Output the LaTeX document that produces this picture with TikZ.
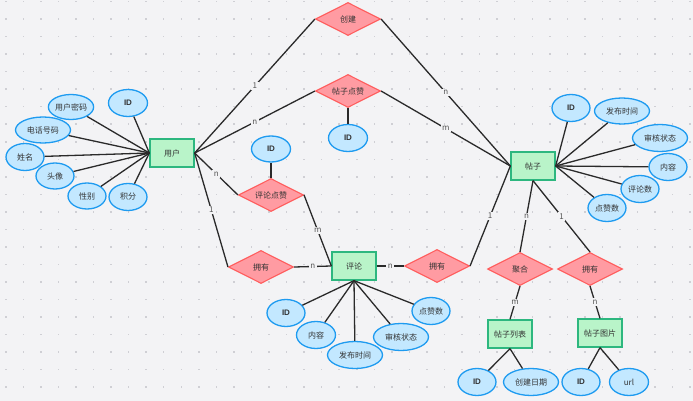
\documentclass[tikz,border=0pt]{standalone}
\usepackage{fontspec}
\setmainfont{Noto Sans CJK SC}
\newfontfamily\idfont{Liberation Sans}
\usetikzlibrary{shapes.geometric}
\definecolor{bg}{HTML}{F3F3F5}
\definecolor{dotc}{HTML}{CFCFD4}
\definecolor{entf}{HTML}{B9F4C9}
\definecolor{entd}{HTML}{2DB77F}
\definecolor{relf}{HTML}{FF9BA2}
\definecolor{reld}{HTML}{FF5C5C}
\definecolor{attf}{HTML}{C3E8FF}
\definecolor{attd}{HTML}{1E9BF0}
\definecolor{lnc}{HTML}{2A2A2A}
\definecolor{txt}{HTML}{333333}
\definecolor{lbltxt}{HTML}{555555}
\tikzset{
  ent/.style={rectangle, draw=entd, fill=entf, line width=1.3pt, minimum width=44pt, minimum height=28pt, inner sep=0pt},
  rel/.style={diamond, draw=reld, fill=relf, line width=1.1pt, minimum width=65pt, minimum height=33pt, inner sep=0pt, aspect=2},
  attr/.style={ellipse, draw=attd, fill=attf, line width=1.3pt, minimum height=27pt, minimum width=#1pt, inner sep=0pt},
  attr/.default=38,
  conn/.style={draw=lnc, line width=1.3pt},
  lbl/.style={fill=bg, inner sep=1.5pt, font=\fontsize{8}{9}\selectfont, text=lbltxt},
  idt/.style={font=\idfont\bfseries\fontsize{8}{9}\selectfont}
}
\begin{document}
\begin{tikzpicture}[x=1pt,y=-1pt, font=\fontsize{8}{9}\selectfont, text=txt]
\fill[bg] (0,0) rectangle (693,401);
\useasboundingbox (0,0) rectangle (693,401);
\foreach \i in {0,...,39} {
  \foreach \j in {0,...,22} {
    \fill[dotc] ({5.0+17.55*\i},{1.0+17.5*\j}) rectangle +(1.5,1.5);
  }
}
% entities
\node[ent] (u) at (172,153) {用户};
\node[ent] (p) at (533,166) {帖子};
\node[ent] (c) at (354,266) {评论};
\node[ent] (pl) at (510,334) {帖子列表};
\node[ent] (pi) at (600,333) {帖子图片};
% relations
\node[rel] (r1) at (348,19) {创建};
\node[rel] (r2) at (348,91) {帖子点赞};
\node[rel] (r3) at (271,195) {评论点赞};
\node[rel] (r4) at (261,267) {拥有};
\node[rel] (r5) at (437,266) {拥有};
\node[rel] (r6) at (520,269) {聚合};
\node[rel] (r7) at (590,269) {拥有};
% user attributes
\node[attr=39, idt] (ua1) at (128,103) {ID};
\node[attr=44, minimum height=25pt] (ua2) at (71,107) {用户密码};
\node[attr=55, minimum height=26pt] (ua3) at (43,130) {电话号码};
\node[attr] (ua4) at (25,157) {姓名};
\node[attr, minimum height=26pt] (ua5) at (55,176) {头像};
\node[attr, minimum height=26pt] (ua6) at (87,196) {性别};
\node[attr] (ua7) at (128,197) {积分};
% relation attributes
\node[attr=39, idt] (ra2) at (348,138) {ID};
\node[attr=39, minimum height=26pt, idt] (ra3) at (271,149) {ID};
% post attributes
\node[attr, idt] (pa1) at (571,108) {ID};
\node[attr=55, minimum height=26pt] (pa2) at (622,111) {发布时间};
\node[attr=55] (pa3) at (660,138) {审核状态};
\node[attr] (pa4) at (668,167) {内容};
\node[attr] (pa5) at (640,189) {评论数};
\node[attr] (pa6) at (607,208) {点赞数};
% comment attributes
\node[attr, idt] (ca1) at (286,313) {ID};
\node[attr=39] (ca2) at (316,335) {内容};
\node[attr=55] (ca3) at (355,355) {发布时间};
\node[attr=55] (ca4) at (401,337) {审核状态};
\node[attr] (ca5) at (431,311) {点赞数};
% list / image attributes
\node[attr, idt] (la1) at (477,382) {ID};
\node[attr=55] (la2) at (531,382) {创建日期};
\node[attr, idt] (ia1) at (581,382) {ID};
\node[attr=39] (ia2) at (629,382) {url};
% attribute connectors
\foreach \a in {ua1,ua2,ua3,ua4,ua5,ua6,ua7} \draw[conn] (u.west) -- (\a);
\foreach \a in {pa1,pa2,pa3,pa4,pa5,pa6} \draw[conn] (p.east) -- (\a);
\foreach \a in {ca1,ca2,ca3,ca4,ca5} \draw[conn] (c.south) -- (\a);
\foreach \a in {la1,la2} \draw[conn] (pl.south) -- (\a);
\foreach \a in {ia1,ia2} \draw[conn] (pi.south) -- (\a);
\draw[conn] (r2.south) -- (ra2);
\draw[conn] (r3.north) -- (ra3);
% relation connectors
\draw[conn] (u.east) -- node[lbl]{1} (r1.west);
\draw[conn] (r1.east) -- node[lbl]{n} (p.west);
\draw[conn] (u.east) -- node[lbl]{n} (r2.west);
\draw[conn] (r2.east) -- node[lbl]{m} (p.west);
\draw[conn] (u.east) -- node[lbl]{n} (r3.west);
\draw[conn] (r3.east) -- node[lbl]{m} (c.west);
\draw[conn] (u.east) -- node[lbl]{1} (r4.west);
\draw[conn] (r4.east) -- node[lbl]{n} (c.west);
\draw[conn] (c.east) -- node[lbl]{n} (r5.west);
\draw[conn] (r5.east) -- node[lbl]{1} (p.west);
\draw[conn] (p.south) -- node[lbl]{n} (r6.north);
\draw[conn] (r6.south) -- node[lbl]{m} (pl.north);
\draw[conn] (p.south) -- node[lbl]{1} (r7.north);
\draw[conn] (r7.south) -- node[lbl]{n} (pi.north);
\end{tikzpicture}
\end{document}
